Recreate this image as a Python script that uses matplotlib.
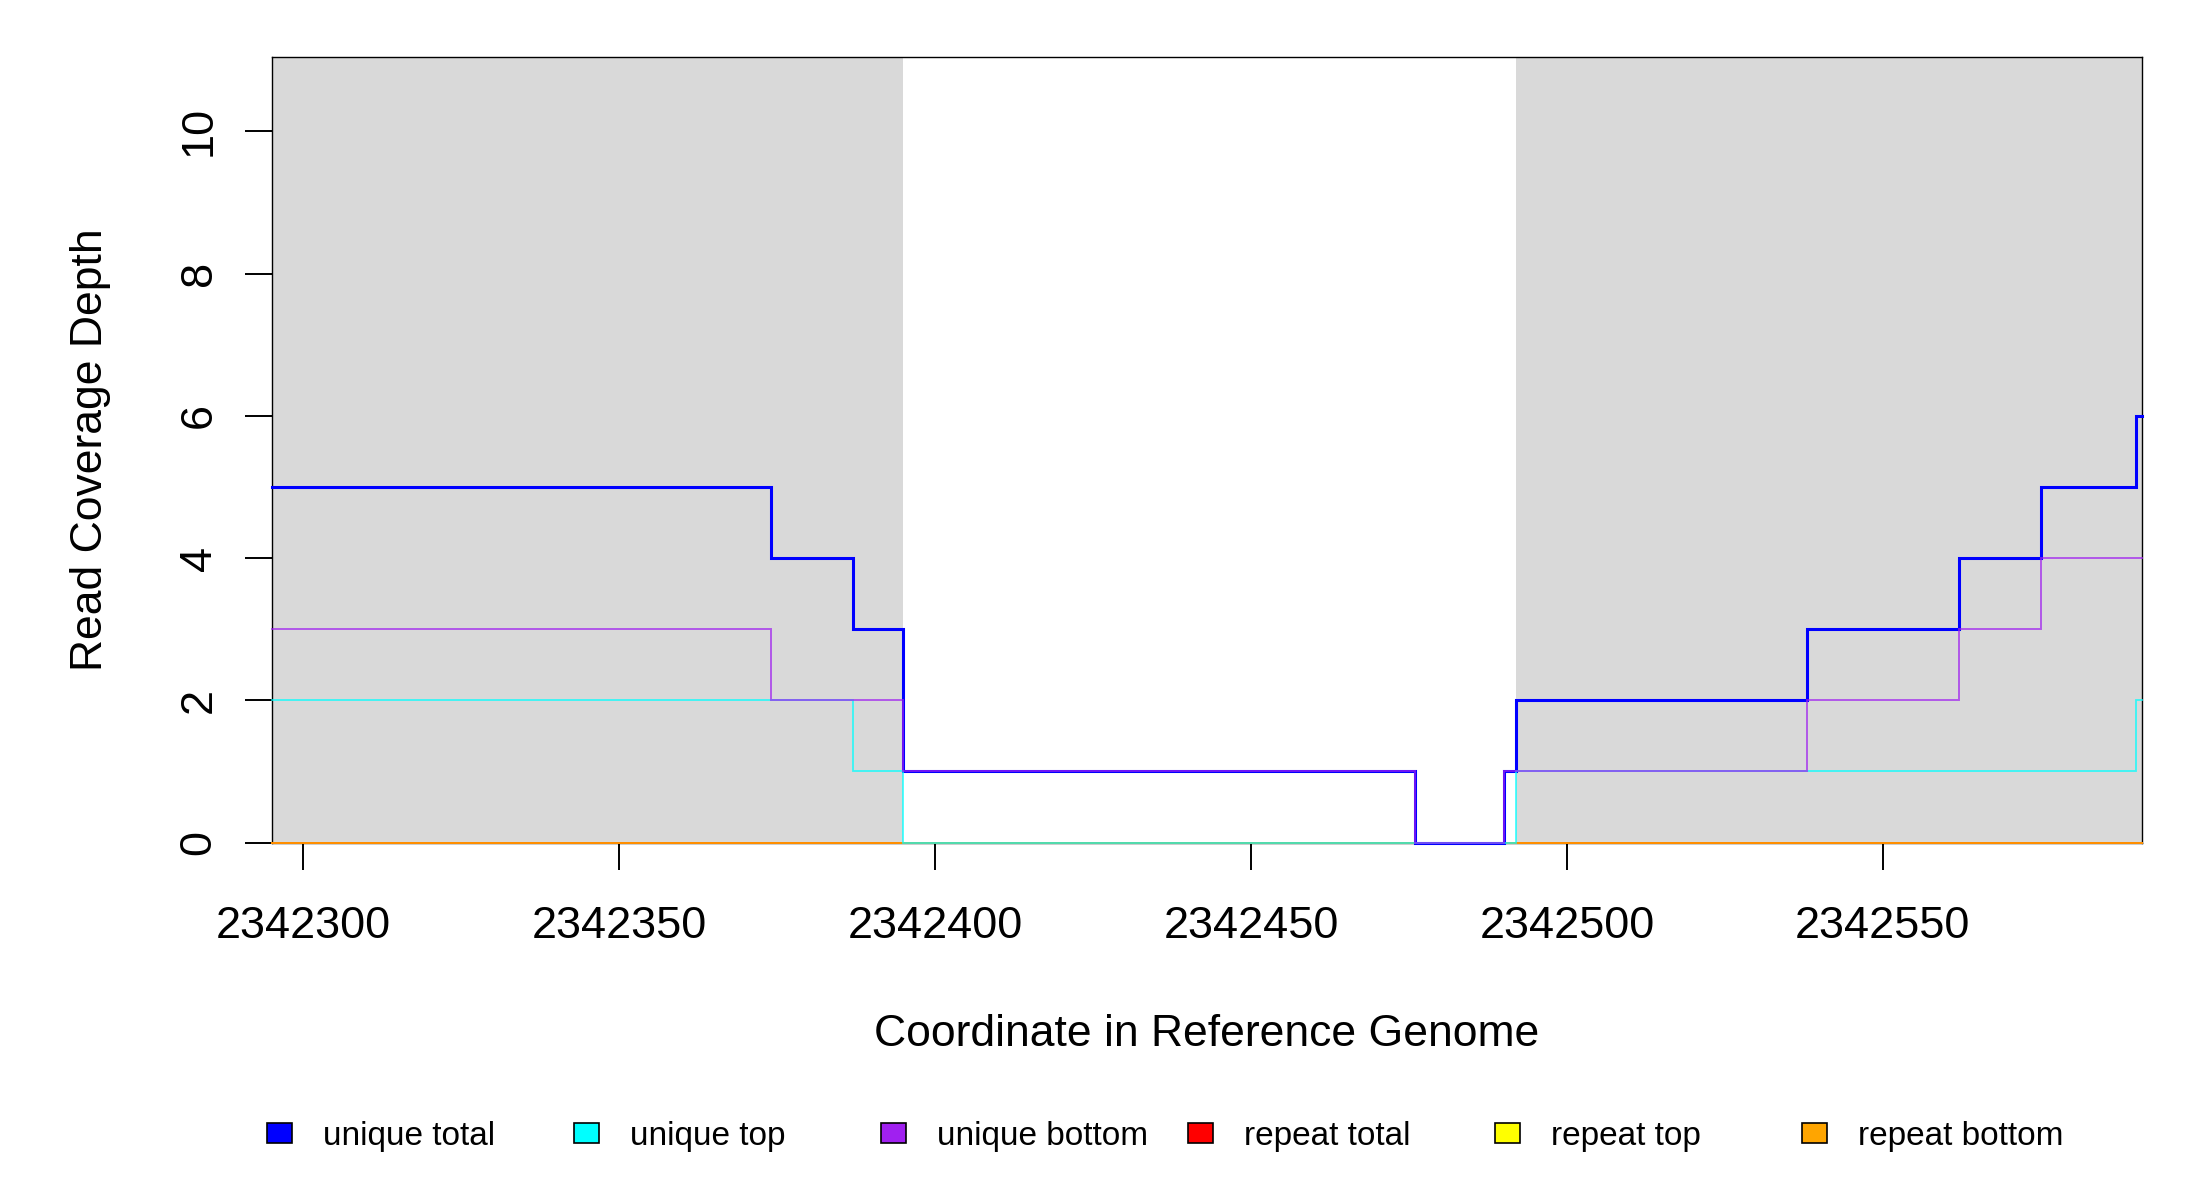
import matplotlib
matplotlib.use('Agg')
import matplotlib.pyplot as plt
from matplotlib.patches import Rectangle

plt.rcParams['font.family'] = ['Liberation Sans', 'DejaVu Sans']

# segment starts along the reference genome, plus the last coordinate
seg_start = [2342295, 2342374, 2342387, 2342395, 2342476, 2342490,
             2342492, 2342538, 2342562, 2342575, 2342590]
seg_end = 2342591

unique_total = [5, 4, 3, 1, 0, 1, 2, 3, 4, 5, 6]
unique_top = [2, 2, 1, 0, 0, 0, 1, 1, 1, 1, 2]
unique_bottom = [3, 2, 2, 1, 0, 1, 1, 2, 3, 4, 4]
repeat_total = [0, 0, 0, 0, 0, 0, 0, 0, 0, 0, 0]
repeat_top = [0, 0, 0, 0, 0, 0, 0, 0, 0, 0, 0]
repeat_bottom = [0, 0, 0, 0, 0, 0, 0, 0, 0, 0, 0]

# shaded regions (start, end)
regions = [(2342295, 2342395), (2342492, 2342591)]

x_ticks = [2342300, 2342350, 2342400, 2342450, 2342500, 2342550]
y_ticks = [0, 2, 4, 6, 8, 10]

legend_labels = ['unique total', 'unique top', 'unique bottom',
                 'repeat total', 'repeat top', 'repeat bottom']
legend_colors = ['#0000ff', '#00ffff', '#a020f0', '#ff0000', '#ffff00', '#ffa500']

W, H = 2200, 1200
fig = plt.figure(figsize=(W / 100, H / 100), dpi=100)
ax = fig.add_axes([271.6 / W, 1 - 842.5 / H, (2142 - 271.6) / W, (842.5 - 57.4) / H])

for a, b in regions:
    ax.axvspan(a, b, color='#d9d9d9', lw=0, zorder=0)

xs = seg_start + [seg_end]


def stepline(vals, color, lw, alpha=1.0, z=3):
    ax.step(xs, vals + [vals[-1]], where='post', color=color, lw=lw,
            alpha=alpha, zorder=z, solid_joinstyle='miter', clip_on=False)


stepline(repeat_total, '#ff0000', 1.4, z=3)
stepline(repeat_top, '#ffff00', 1.4, z=3)
stepline(repeat_bottom, '#ff8c00', 1.4, z=3)
stepline(unique_total, '#0000ff', 2.2, z=4)
stepline(unique_top, '#00ffff', 1.3, alpha=0.75, z=5)
stepline(unique_bottom, '#a020f0', 1.4, alpha=0.7, z=5)

ax.set_xlim(2342295, 2342591)
ax.set_ylim(0, 11.04)

ax.set_xticks(x_ticks)
ax.set_xticklabels([str(t) for t in x_ticks])
ax.set_yticks(y_ticks)
ax.set_yticklabels([str(t) for t in y_ticks], rotation=90, va='center')
ax.tick_params(axis='both', direction='out', length=19.5, width=1.4,
               labelsize=32.5, color='black')
ax.tick_params(axis='x', pad=26)
ax.tick_params(axis='y', pad=18)
for s in ax.spines.values():
    s.set_linewidth(1.0)
    s.set_color('black')
    s.set_zorder(2)

fig.text(91 / W, 1 - 450 / H, 'Read Coverage Depth', rotation=90,
         ha='center', va='center', fontsize=32)
fig.text(1207 / W, 1 - 1046 / H, 'Coordinate in Reference Genome',
         ha='center', va='baseline', fontsize=32)

# legend row along the bottom
for i, (lab, col) in enumerate(zip(legend_labels, legend_colors)):
    x0 = 267.3 + 307 * i
    fig.patches.append(Rectangle((x0 / W, 1 - 1143 / H), 25 / W, 20 / H,
                                 transform=fig.transFigure, facecolor=col,
                                 edgecolor='black', lw=1.2))
    fig.text((x0 + 55.4) / W, 1 - 1145 / H, lab, ha='left', va='baseline',
             fontsize=24)

fig.savefig('out.png', dpi=100)
